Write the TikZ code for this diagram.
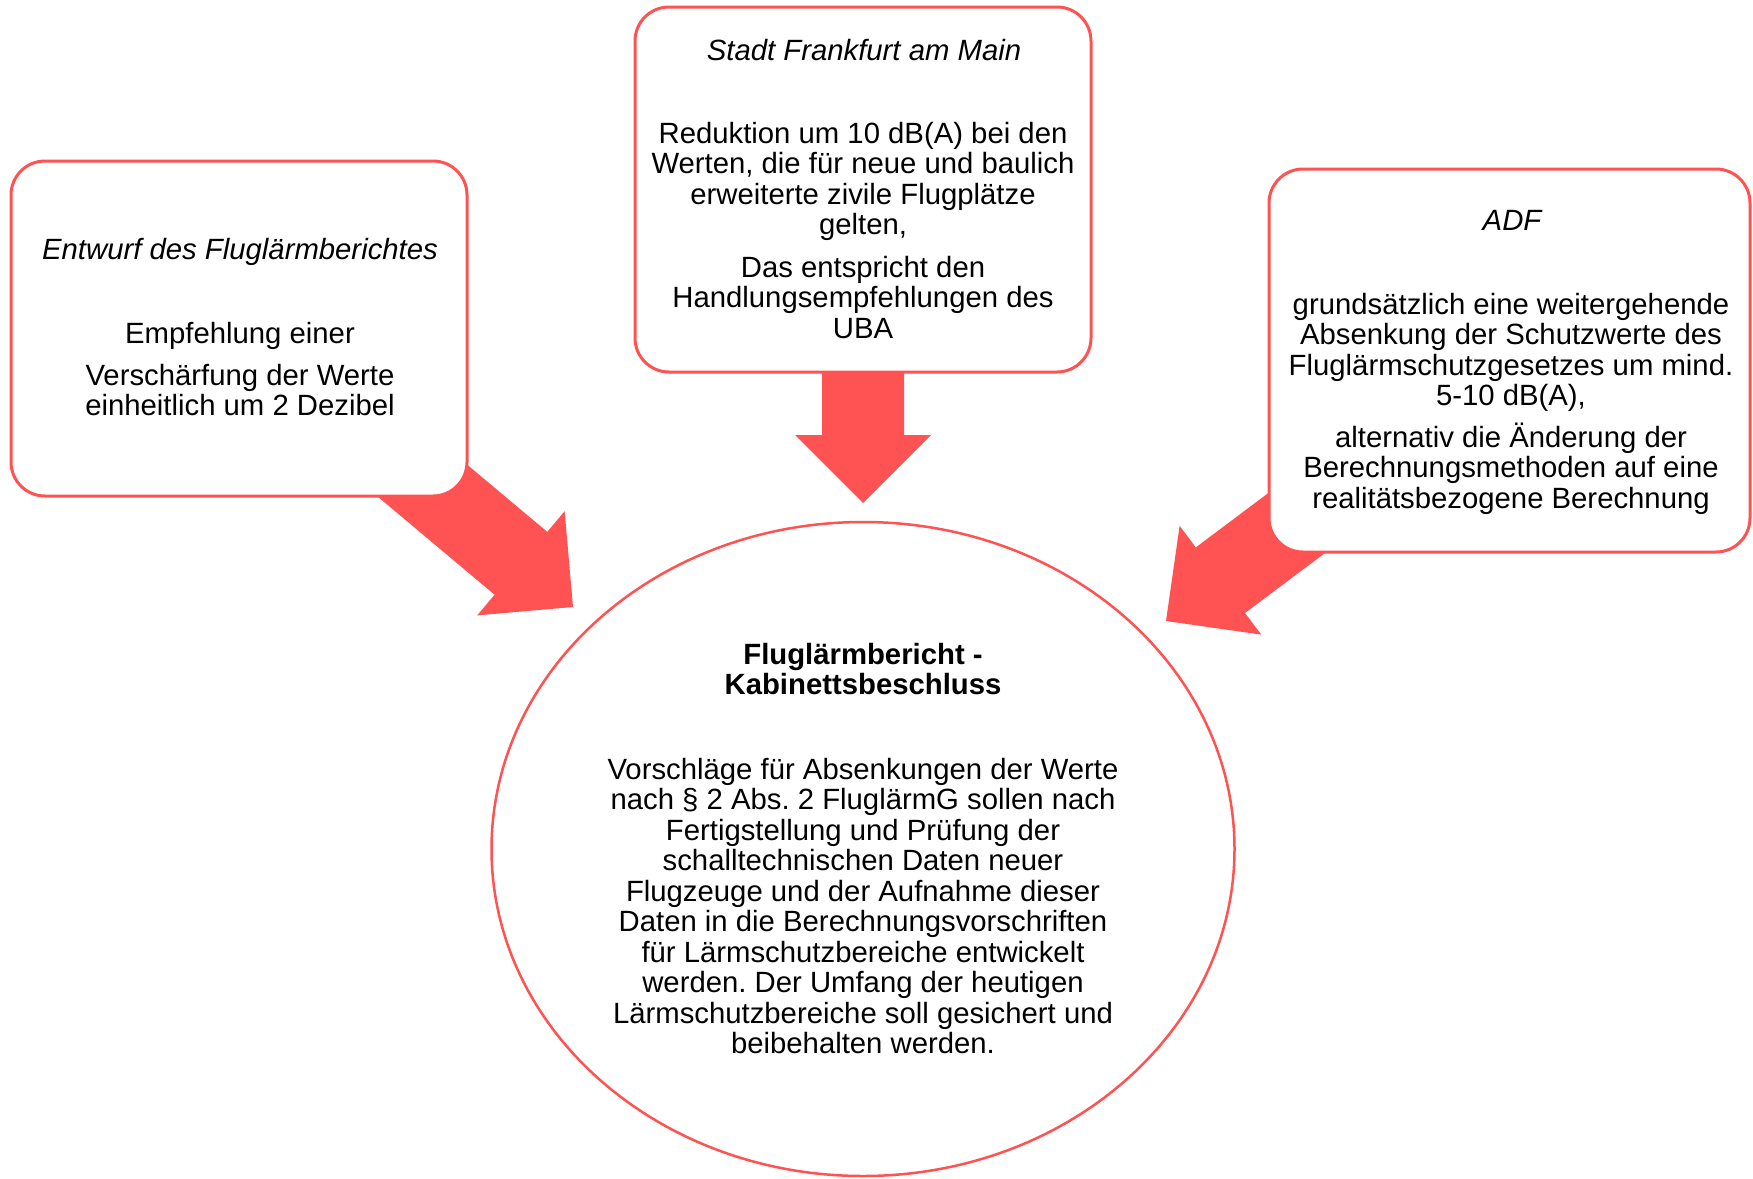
\documentclass[tikz,border=0pt]{standalone}
\usepackage{fontspec}
\setmainfont{Liberation Sans}
\usetikzlibrary{shapes.geometric}
\definecolor{alarmred}{RGB}{255,82,82}
\tikzset{
  panel/.style={draw=alarmred, line width=3pt, fill=white, rounded corners=34pt, inner sep=0pt},
  core/.style={ellipse, draw=alarmred, line width=2.5pt, fill=white, inner sep=0pt},
  txt/.style={anchor=north, align=center, inner sep=0pt,
    font=\fontsize{29.3}{30.5}\selectfont},
  txtit/.style={txt, font=\fontsize{29.3}{30.5}\selectfont\itshape},
  txtbf/.style={txt, font=\fontsize{29.3}{30.5}\selectfont\bfseries},
  flow/.style={fill=alarmred},
}
% strut fixing the first baseline 28pt below the top of a text block
\newcommand\fs{\rule{0pt}{28pt}}
% wide block arrow, tip at #1, pointing in direction #2 (degrees)
\newcommand\blockarrow[2]{%
  \begin{scope}[shift={(#1)}, rotate=#2]
    \fill[flow] (0,0) -- (-68,68) -- (-68,41) -- (-250,41) -- (-250,-41)
      -- (-68,-41) -- (-68,-68) -- cycle;
  \end{scope}}
\frenchspacing
\begin{document}
\lineskiplimit=-100pt\relax
\begin{tikzpicture}[x=1pt, y=1pt]
\useasboundingbox (0,0) rectangle (1753,-1178);

% arrow tips, just outside the central ellipse
\coordinate (tipL) at (573,-607);
\coordinate (tipT) at (863,-503);
\coordinate (tipR) at (1166,-621);

% block arrows (tails are covered by the panels)
\blockarrow{tipL}{-40}
\blockarrow{tipT}{-90}
\blockarrow{tipR}{-143.13}

% panels
\node[panel, minimum width=456, minimum height=335] (entwurf) at (239,-328.5) {};
\node[panel, minimum width=456, minimum height=365] (stadt) at (863,-189.5) {};
\node[panel, minimum width=481, minimum height=383] (adf) at (1509.5,-360.5) {};

% central ellipse
\node[core, minimum width=743, minimum height=654] (beschluss) at (863,-849) {};

% left panel text
\node[txtit] (entwurfT) at (240,-231) {\fs Entwurf des Fluglärmberichtes};
\node[txt] (entwurfA) at (240,-315) {\fs Empfehlung einer};
\node[txt] (entwurfB) at (240,-357) {\fs Verschärfung der Werte\\einheitlich um 2 Dezibel};

% top panel text
\node[txtit] (stadtT) at (864,-32) {\fs Stadt Frankfurt am Main};
\node[txt] (stadtA) at (863,-115) {\fs Reduktion um 10 dB(A) bei den\\Werten, die für neue und baulich\\erweiterte zivile Flugplätze\\gelten,};
\node[txt] (stadtB) at (863,-249) {\fs Das entspricht den\\Handlungsempfehlungen des\\UBA};

% right panel text
\node[txtit] (adfT) at (1512,-202) {\fs ADF};
\node[txt] (adfA) at (1511,-286) {\fs grundsätzlich eine weitergehende\\Absenkung der Schutzwerte des\\Fluglärmschutzgesetzes um mind.\\5-10 dB(A),};
\node[txt] (adfB) at (1511,-419) {\fs alternativ die Änderung der\\Berechnungsmethoden auf eine\\realitätsbezogene Berechnung};

% ellipse text
\node[txtbf] (beschlussT) at (863,-636) {\fs Fluglärmbericht -\\Kabinettsbeschluss};
\node[txt] (beschlussA) at (863,-751) {\fs Vorschläge für Absenkungen der Werte\\nach § 2 Abs. 2 FluglärmG sollen nach\\Fertigstellung und Prüfung der\\schalltechnischen Daten neuer\\Flugzeuge und der Aufnahme dieser\\Daten in die Berechnungsvorschriften\\für Lärmschutzbereiche entwickelt\\werden. Der Umfang der heutigen\\Lärmschutzbereiche soll gesichert und\\beibehalten werden.};
\end{tikzpicture}
\end{document}
